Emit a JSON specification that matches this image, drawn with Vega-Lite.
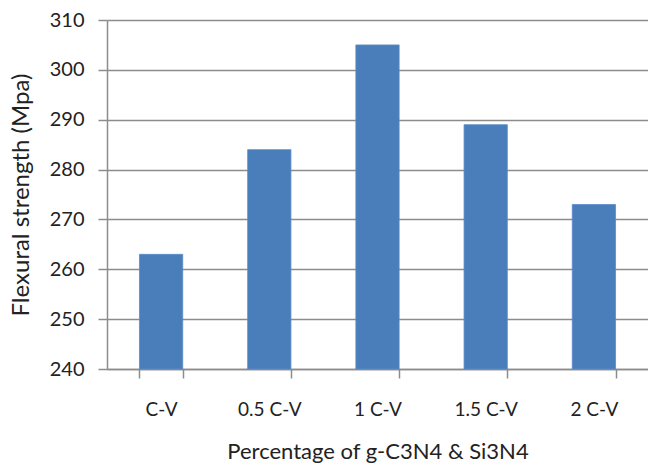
{
  "$schema": "https://vega.github.io/schema/vega-lite/v6.json",
  "width": 541,
  "height": 349,
  "autosize": "none",
  "padding": {"left": 107, "top": 20, "right": 0, "bottom": 96},
  "background": "white",
  "data": {
    "values": [
      {"category": "C-V", "strength": 263},
      {"category": "0.5 C-V", "strength": 284},
      {"category": "1 C-V", "strength": 305},
      {"category": "1.5 C-V", "strength": 289},
      {"category": "2 C-V", "strength": 273}
    ]
  },
  "config": {
    "view": {"stroke": null},
    "font": "Lato"
  },
  "mark": {"type": "bar", "color": "#4A7EBB", "stroke": "#5B8CC6", "strokeWidth": 0.8},
  "encoding": {
    "x": {
      "field": "category",
      "type": "nominal",
      "sort": null,
      "scale": {"paddingInner": 0.6, "paddingOuter": 0.3},
      "axis": {
        "title": "Percentage of g-C3N4 & Si3N4",
        "labelAngle": 0,
        "tickBand": "extent",
        "domainColor": "#8C8C8C",
        "domainWidth": 1.5,
        "tickColor": "#8C8C8C",
        "tickWidth": 1.5,
        "tickSize": 9,
        "labelFont": "Lato",
        "labelFontSize": 19,
        "labelColor": "#222222",
        "labelPadding": 22,
        "titleFont": "Lato",
        "titleFontSize": 22,
        "titleFontWeight": "normal",
        "titleColor": "#222222",
        "titlePadding": 22
      }
    },
    "y": {
      "field": "strength",
      "type": "quantitative",
      "scale": {"domain": [240, 310], "zero": false, "nice": false},
      "axis": {
        "title": "Flexural strength (Mpa)",
        "values": [240, 250, 260, 270, 280, 290, 300, 310],
        "grid": true,
        "gridColor": "#8C8C8C",
        "gridWidth": 1.5,
        "domainColor": "#8C8C8C",
        "domainWidth": 1.5,
        "tickColor": "#8C8C8C",
        "tickWidth": 1.5,
        "tickSize": 9,
        "labelFont": "Lato",
        "labelFontSize": 20,
        "labelColor": "#222222",
        "labelPadding": 14,
        "titleFont": "Lato",
        "titleFontSize": 24,
        "titleFontWeight": "normal",
        "titleColor": "#222222",
        "titlePadding": 16
      }
    },
    "y2": {"datum": 240}
  }
}
